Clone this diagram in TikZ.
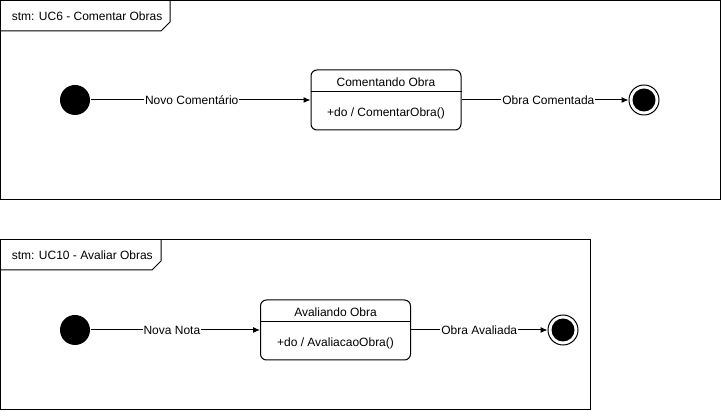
\documentclass[tikz,border=0pt]{standalone}
\usepackage{fontspec}
\setmainfont{Liberation Sans}
\usetikzlibrary{arrows.meta}
\begin{document}
\begin{tikzpicture}[x=1pt, y=-1pt, line width=1pt, font=\fontsize{12}{14}\selectfont,
  estado/.style={draw, rounded corners=6pt, minimum width=150pt, minimum height=60pt, inner sep=0pt},
  inicio/.style={circle, fill=black, minimum size=30pt, inner sep=0pt},
  fim/.style={circle, draw, minimum size=30pt, inner sep=0pt},
  trans/.style={-{Latex[length=7pt,width=6pt]}},
  rotulo/.style={fill=white, inner sep=1pt}]
\useasboundingbox (0,0) rectangle (721,411);
% UC6
\draw (0.5,0.5) rectangle (720,200);
\draw (0.5,31) -- (161,31) -- (170,22) -- (170,0.5);
\node[anchor=west] (T_0) at (8,16) {stm: UC6 - Comentar Obras};
\node[inicio] (I_0) at (75,100) {};
\node[estado] (E_0) at (386,100) {};
\draw ([yshift=-22pt]E_0.north west) -- ([yshift=-22pt]E_0.north east);
\node (E_0_t) at (386,82) {Comentando Obra};
\node (E_0_a) at (386,113) {+do / ComentarObra()};
\node[fim] (F_0) at (644,100) {};
\fill (F_0.center) circle (11.5);
\draw[trans] (I_0) -- (E_0) node[pos=0.46, rotulo] {Novo Comentário};
\draw[trans] (E_0) -- (F_0) node[pos=0.52, rotulo] {Obra Comentada};
% UC10
\draw (0.5,240) rectangle (590,410);
\draw (0.5,270) -- (152,270) -- (161,261) -- (161,240);
\node[anchor=west] (T_1) at (8,255) {stm: UC10 - Avaliar Obras};
\node[inicio] (I_1) at (75,330) {};
\node[estado] (E_1) at (335.5,330) {};
\draw ([yshift=-22pt]E_1.north west) -- ([yshift=-22pt]E_1.north east);
\node (E_1_t) at (335.5,312) {Avaliando Obra};
\node (E_1_a) at (335.5,343) {+do / AvaliacaoObra()};
\node[fim] (F_1) at (563,330) {};
\fill (F_1.center) circle (11.5);
\draw[trans] (I_1) -- (E_1) node[pos=0.48, rotulo] {Nova Nota};
\draw[trans] (E_1) -- (F_1) node[pos=0.5, rotulo] {Obra Avaliada};
\end{tikzpicture}
\end{document}
